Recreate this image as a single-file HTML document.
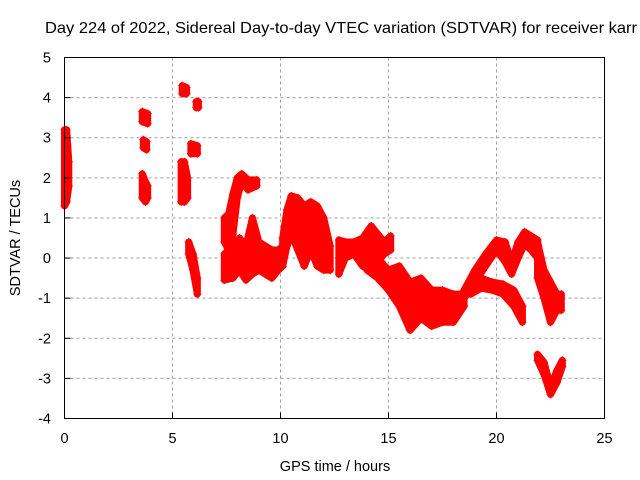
<!DOCTYPE html>
<html><head><meta charset="utf-8"><style>
html,body{margin:0;padding:0;background:#fff;}
svg{display:block;font-family:"Liberation Sans",sans-serif;}
</style></head><body>
<svg id="chart" width="640" height="480" viewBox="0 0 640 480" xmlns="http://www.w3.org/2000/svg">
<rect width="640" height="480" fill="#fff"/>
<g id="grid"></g>
<g id="marks"></g>
<rect x="64.5" y="57.5" width="540" height="361" fill="none" stroke="#000" stroke-width="1"/>
<g id="ticks"></g>
<text x="45" y="33" font-size="16" textLength="592" lengthAdjust="spacingAndGlyphs" fill="#000">Day 224 of 2022, Sidereal Day-to-day VTEC variation (SDTVAR) for receiver karr</text>
<text x="335" y="471" font-size="14.5" text-anchor="middle">GPS time / hours</text>
<text transform="translate(20,238) rotate(-90)" font-size="14.5" text-anchor="middle">SDTVAR / TECUs</text>
</svg>
<script>
const xTicks=[0,5,10,15,20,25];
const yTicks=[-4,-3,-2,-1,0,1,2,3,4,5];
// segments: times, lower and upper values
const segTimes=[
[0,0.1,0.2],[3.6,3.85],[3.65,3.8],[3.6,3.75,3.85],[5.45,5.65],[5.4,5.55,5.7],
[5.75,5.95,6.15],[5.85,6.15],[6.1,6.2],
[7.4,7.6,7.8,8.0,8.2,8.5,8.9],
[7.4,7.8,8.1,8.4,8.7,9.0,9.3,9.6,9.9,10.1],
[10.1,10.3,10.5,10.8,11.1,11.4,11.7,12.0,12.3],
[12.7,13.0,13.4,13.8,14.2,14.5,14.8,15.1],
[14.0,14.5,15.0,15.5,16.0,16.5,17.0,17.5,18.0,18.5],
[18.5,19.0,19.5,20.0,20.4,20.7,21.0,21.3,21.6,21.9],
[21.9,22.2,22.5,22.8,23.0],
[18.8,19.3,19.8,20.3,20.8,21.2],
[21.9,22.2,22.5,22.8,23.05]];
const segLow=[
[1.3,1.4,1.8],[3.4,3.35],[2.75,2.7],[1.5,1.4,1.5],[4.1,4.1],[1.4,1.4,1.5],
[0.1,-0.3,-0.9],[2.6,2.6],[3.75,3.75],
[0.4,0.2,0.6,1.5,1.9,1.7,1.8],
[-0.55,-0.5,-0.3,-0.55,-0.4,-0.3,-0.4,-0.5,-0.3,-0.2],
[-0.2,0.3,0.6,0.2,-0.2,0.2,-0.2,-0.3,-0.3],
[-0.4,0,0.1,-0.2,-0.3,-0.1,0.1,0.2],
[-0.3,-0.5,-0.8,-1.2,-1.8,-1.5,-1.7,-1.6,-1.6,-1.2],
[-1.0,-0.6,-0.2,0.2,-0.1,-0.4,0,0.35,0.2,0],
[-0.5,-1.0,-1.6,-1.3,-1.3],
[-0.9,-0.75,-0.8,-0.9,-1.2,-1.6],
[-2.55,-2.9,-3.4,-3.1,-2.7]];
const segHigh=[
[3.2,3.2,2.4],[3.65,3.6],[2.95,2.9],[2.1,1.9,1.8],[4.3,4.25],[2.4,2.4,2.0],
[0.4,0.1,-0.5],[2.85,2.8],[3.9,3.9],
[1.0,1.1,1.6,2.0,2.1,1.95,1.95],
[0.1,0.3,0.5,0.3,1.0,0.4,0.3,0.2,0.2,0.3],
[0.5,1.2,1.55,1.5,1.3,1.4,1.3,1.0,0.3],
[0.45,0.4,0.4,0.5,0.8,0.6,0.4,0.55],
[0.2,0,-0.3,-0.2,-0.6,-0.5,-0.8,-0.8,-0.9,-0.9],
[-0.8,-0.3,0.1,0.45,0.4,-0.1,0.4,0.65,0.55,0.45],
[0.4,-0.3,-0.6,-0.9,-0.9],
[-0.7,-0.5,-0.6,-0.65,-0.8,-1.2],
[-2.4,-2.6,-3.2,-2.8,-2.55]];
const X0=64.5,X1=604.5,Y0=418.5,Y1=57.5;
const xs=t=>X0+(t-0)/(25-0)*(X1-X0);
const ys=v=>Y0-(v+4)/(9)*(Y0-Y1);
const NS="http://www.w3.org/2000/svg";
function mk(tag,attrs,parent){const e=document.createElementNS(NS,tag);for(const k in attrs)e.setAttribute(k,attrs[k]);parent.appendChild(e);return e;}
const grid=document.getElementById('grid'),ticks=document.getElementById('ticks'),marks=document.getElementById('marks');
xTicks.forEach(t=>{
  const x=xs(t);
  if(t>0&&t<25){const g=mk('line',{x1:x,x2:x,y1:Y1,y2:Y0,stroke:'#a0a0a0','stroke-dasharray':'3,3'},grid);
  
  }
  const l=mk('line',{x1:x,x2:x,y1:Y0,y2:Y0-6,stroke:'#000'},ticks);
  
  
  const tx=mk('text',{x:x,y:443,'font-size':'14.5','text-anchor':'middle'},ticks);tx.textContent=t;
  
  
});
yTicks.forEach(v=>{
  const y=ys(v);
  if(v>-4&&v<5){const g=mk('line',{x1:X0,x2:X1,y1:y,y2:y,stroke:'#a0a0a0','stroke-dasharray':'3,3'},grid);
  
  }
  const l=mk('line',{x1:X0,x2:X0+6,y1:y,y2:y,stroke:'#000'},ticks);
  
  
  const tx=mk('text',{x:51,y:y+5,'font-size':'14.5','text-anchor':'end'},ticks);tx.textContent=v;
  
  
});
segTimes.forEach((ts,i)=>{
  const lo=segLow[i],hi=segHigh[i];
  let pts=ts.map((t,j)=>xs(t)+','+ys(hi[j]));
  pts=pts.concat(ts.map((t,j)=>xs(t)+','+ys(lo[j])).reverse());
  const p=mk('polygon',{points:pts.join(' '),fill:'#ff0000',stroke:'#ff0000','stroke-width':'7','stroke-linejoin':'round'},marks);
  
  
  ts.forEach((t,j)=>{[lo[j],hi[j]].forEach(v=>{
    const x=xs(t),y=ys(v);
    const m=mk('path',{d:`M${x-4},${y}H${x+4}M${x},${y-4}V${y+4}`,stroke:'#ff0000','stroke-width':'1'},marks);
    
    
  });});
});
</script>
</body></html>
